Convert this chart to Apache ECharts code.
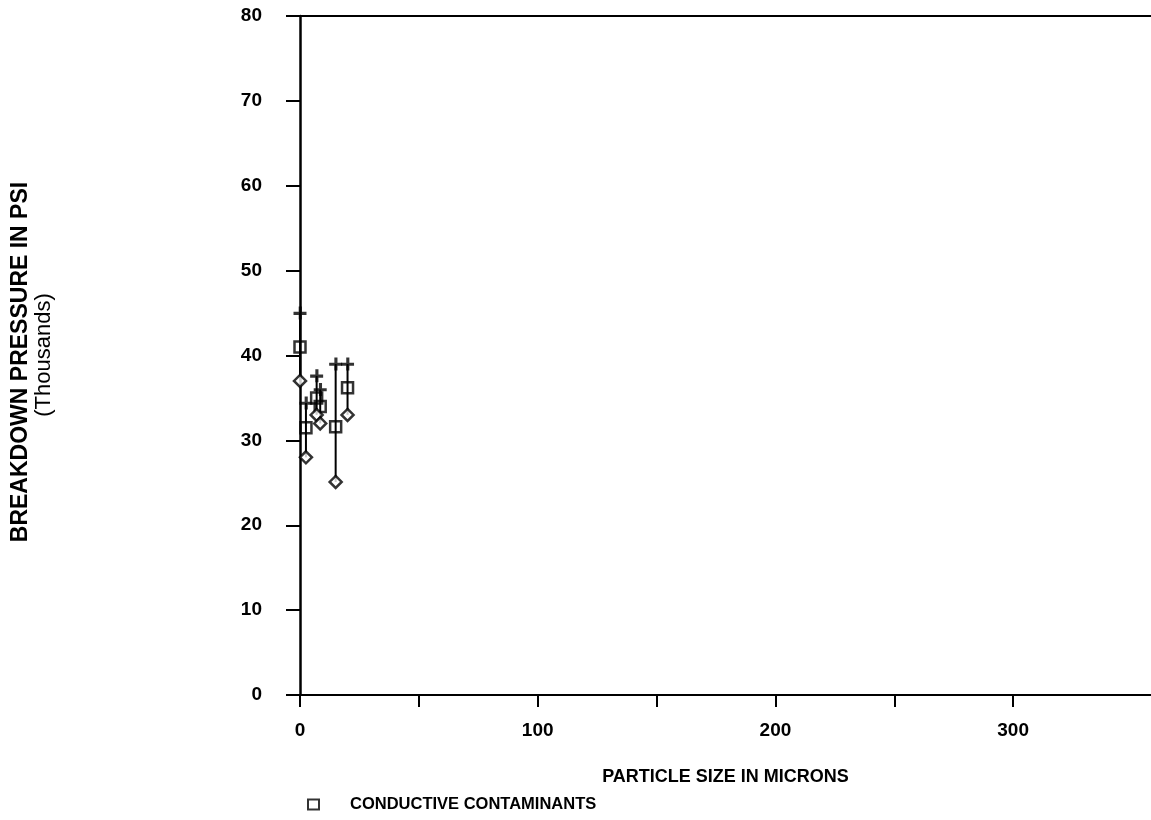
<!DOCTYPE html>
<html>
<head>
<meta charset="utf-8">
<script src="https://cdn.jsdelivr.net/npm/echarts@6/dist/echarts.min.js"></script>
<style>
  html, body { margin: 0; padding: 0; background: #ffffff; }
  #chart { width: 1151px; height: 820px; }
</style>
</head>
<body>
<div id="chart"></div>
<script>
// ---- data ----
const particleSize = [0, 2.5, 7, 8.5, 15, 20];          // microns
const highPressure = [45, 34.4, 37.6, 36, 39, 39];      // thousands psi
const meanPressure = [41, 31.5, 35, 34, 31.6, 36.2];
const lowPressure  = [37, 28, 33, 32, 25.1, 33];
const xTickValues  = [0, 50, 100, 150, 200, 250, 300];
const xLabelValues = [0, 100, 200, 300];
const seriesName   = 'CONDUCTIVE CONTAMINANTS';
const yTitle1 = 'BREAKDOWN PRESSURE IN PSI';
const yTitle2 = '(Thousands)';
const xTitle  = 'PARTICLE SIZE IN MICRONS';

const FONT = '"Liberation Sans", Arial, sans-serif';

const rangeData = particleSize.map((x, i) => [x, highPressure[i], lowPressure[i]]);
const highData = particleSize.map((x, i) => [x, highPressure[i]]);
const meanData = particleSize.map((x, i) => [x, meanPressure[i]]);
const lowData  = particleSize.map((x, i) => [x, lowPressure[i]]);

const chart = echarts.init(document.getElementById('chart'), null, { renderer: 'canvas' });

const option = {
  backgroundColor: '#ffffff',
  animation: false,
  grid: { left: 300, right: 0, top: 16, bottom: 125, containLabel: false, outerBoundsMode: 'none' },
  legend: {
    data: [seriesName],
    left: 302,
    top: 791,
    itemWidth: 11,
    itemHeight: 10,
    textStyle: { fontFamily: FONT, fontWeight: 'bold', fontSize: 16.5, color: '#000', padding: [0, 0, 0, 26] },
    selectedMode: false
  },
  graphic: [
    {
      type: 'text',
      x: 21, y: 362,
      rotation: Math.PI / 2,
      style: { text: yTitle1, font: 'bold 23px ' + FONT, fill: '#000', align: 'center', verticalAlign: 'middle' }
    },
    {
      type: 'text',
      x: 44, y: 355,
      rotation: Math.PI / 2,
      style: { text: yTitle2, font: '22px ' + FONT, fill: '#000', align: 'center', verticalAlign: 'middle' }
    }
  ],
  xAxis: [{
    type: 'value',
    min: 0,
    max: 358,
    position: 'bottom',
    name: xTitle,
    nameLocation: 'middle',
    nameGap: 73,
    nameTextStyle: { fontFamily: FONT, fontWeight: 'bold', fontSize: 18, color: '#000' },
    axisLine: { show: true, lineStyle: { color: '#000', width: 2 } },
    axisTick: { show: true, inside: false, length: 12, customValues: xTickValues, lineStyle: { color: '#000', width: 2 } },
    axisLabel: { show: true, customValues: xLabelValues, margin: 26, fontFamily: FONT, fontWeight: 'bold', fontSize: 19, color: '#000' },
    splitLine: { show: false }
  }, {
    type: 'value',
    min: 0,
    max: 358,
    position: 'top',
    axisLine: { show: true, lineStyle: { color: '#000', width: 2 } },
    axisTick: { show: false },
    axisLabel: { show: false },
    splitLine: { show: false }
  }],
  yAxis: {
    type: 'value',
    min: 0,
    max: 80,
    interval: 10,
    axisLine: { show: true, lineStyle: { color: '#000', width: 2.5 } },
    axisTick: { show: true, inside: false, length: 14, lineStyle: { color: '#000', width: 2 } },
    axisLabel: { margin: 38, fontFamily: FONT, fontWeight: 'bold', fontSize: 19, color: '#000' },
    splitLine: { show: false }
  },
  series: [
    {
      name: 'range',
      type: 'custom',
      data: rangeData,
      encode: { x: 0, y: [1, 2] },
      renderItem: function (params, api) {
        const p1 = api.coord([api.value(0), api.value(1)]);
        const p2 = api.coord([api.value(0), api.value(2)]);
        return {
          type: 'line',
          shape: { x1: p1[0], y1: p1[1], x2: p2[0], y2: p2[1] },
          style: { stroke: '#000', lineWidth: 2 }
        };
      },
      silent: true,
      z: 1
    },
    {
      name: 'high',
      type: 'scatter',
      data: highData,
      symbol: 'path://M4,0h2.4v10h-2.4z M0,4h10v2.4h-10z',
      symbolSize: 13,
      itemStyle: { color: '#000' },
      z: 3
    },
    {
      name: seriesName,
      type: 'scatter',
      data: meanData,
      symbol: 'rect',
      symbolSize: 11,
      itemStyle: { color: 'rgba(255,255,255,0)', borderColor: '#000', borderWidth: 2.5 },
      z: 4
    },
    {
      name: 'low',
      type: 'scatter',
      data: lowData,
      symbol: 'diamond',
      symbolSize: 12,
      itemStyle: { color: '#fff', borderColor: '#000', borderWidth: 2.5 },
      z: 4
    }
  ]
};
chart.setOption(option);
</script>
</body>
</html>
